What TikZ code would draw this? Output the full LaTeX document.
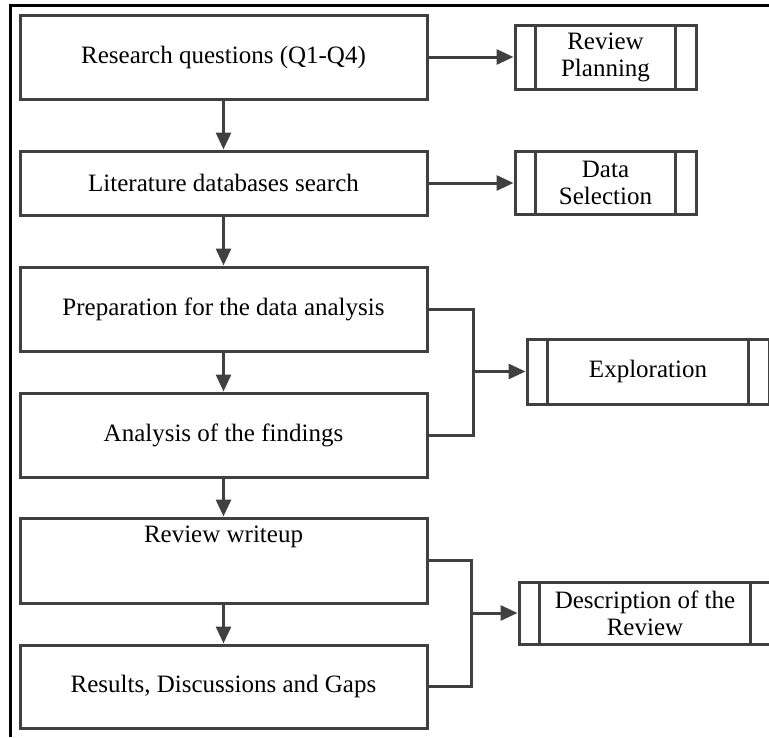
\documentclass[tikz,border=0pt]{standalone}
\usepackage{fontspec}
\setmainfont{Liberation Serif}
\usepackage{tikz}
\usetikzlibrary{positioning, arrows.meta}

\definecolor{linegray}{HTML}{404040}
\tikzset{
	stage/.style={draw=linegray, line width=3pt, minimum width=407pt, inner sep=0pt, align=center, font=\fontsize{25}{27}\selectfont},
	subproc/.style={draw=linegray, line width=3pt, inner sep=0pt, align=center, font=\fontsize{25}{27}\selectfont},
	flow/.style={draw=linegray, line width=3pt, -{Triangle[length=17pt,width=15pt]}},
	link/.style={draw=linegray, line width=3pt}
}

\begin{document}
\begin{tikzpicture}[x=1pt, y=-1pt]
		\useasboundingbox (0,0) rectangle (769,737);
		% Frame (top and left only)
		\draw[black, line width=3pt] (10,737) -- (10,5) -- (775,5);
		% Main stages
		\node[stage, minimum height=84pt] (rq) at (223.5,57) {Research questions (Q1-Q4)};
		\node[stage, minimum height=64pt] (lit) at (223.5,183) {Literature databases search};
		\node[stage, minimum height=84pt] (prep) at (223.5,309) {Preparation for the data analysis};
		\node[stage, minimum height=84pt] (anal) at (223.5,435) {Analysis of the findings};
		\node[stage, minimum height=85pt] (wrt) at (223.5,560.5) {};
		\node[font=\fontsize{25}{27}\selectfont] (wrtlbl) at (223.5,537) {Review writeup};
		\node[stage, minimum height=83pt] (res) at (223.5,686.5) {Results, Discussions and Gaps};
		% Phases
		\node[subproc, minimum width=181pt, minimum height=64pt] (plan) at (605.5,57) {Review\\Planning};
		\node[subproc, minimum width=181pt, minimum height=63pt] (sel) at (605.5,183) {Data\\Selection};
		\node[subproc, minimum width=242pt, minimum height=65pt] (expl) at (648,371.5) {Exploration};
		\node[subproc, minimum width=252pt, minimum height=62pt] (desc) at (645,613) {Description of the\\Review};
		% Side bars of the phase boxes
		\foreach \n in {plan, sel, expl, desc} {
			\draw[link] ([xshift=22pt]\n.north west) -- ([xshift=22pt]\n.south west);
			\draw[link] ([xshift=-22pt]\n.north east) -- ([xshift=-22pt]\n.south east);
		}
		% Flow between stages
		\draw[flow] (rq) -- (lit);
		\draw[flow] (lit) -- (prep);
		\draw[flow] (prep) -- (anal);
		\draw[flow] (anal) -- (wrt);
		\draw[flow] (wrt) -- (res);
		% Stages to phases
		\draw[flow] (rq) -- (plan);
		\draw[flow] (lit) -- (sel);
		\coordinate (jexp) at (473,371.5);
		\draw[link] (prep.east) -| (jexp) |- (anal.east);
		\draw[flow] (jexp) -- (expl);
		\coordinate (jdesc) at (471,613);
		\draw[link] (wrt.east) -| (jdesc) |- (res.east);
		\draw[flow] (jdesc) -- (desc);
	\end{tikzpicture}
\end{document}
